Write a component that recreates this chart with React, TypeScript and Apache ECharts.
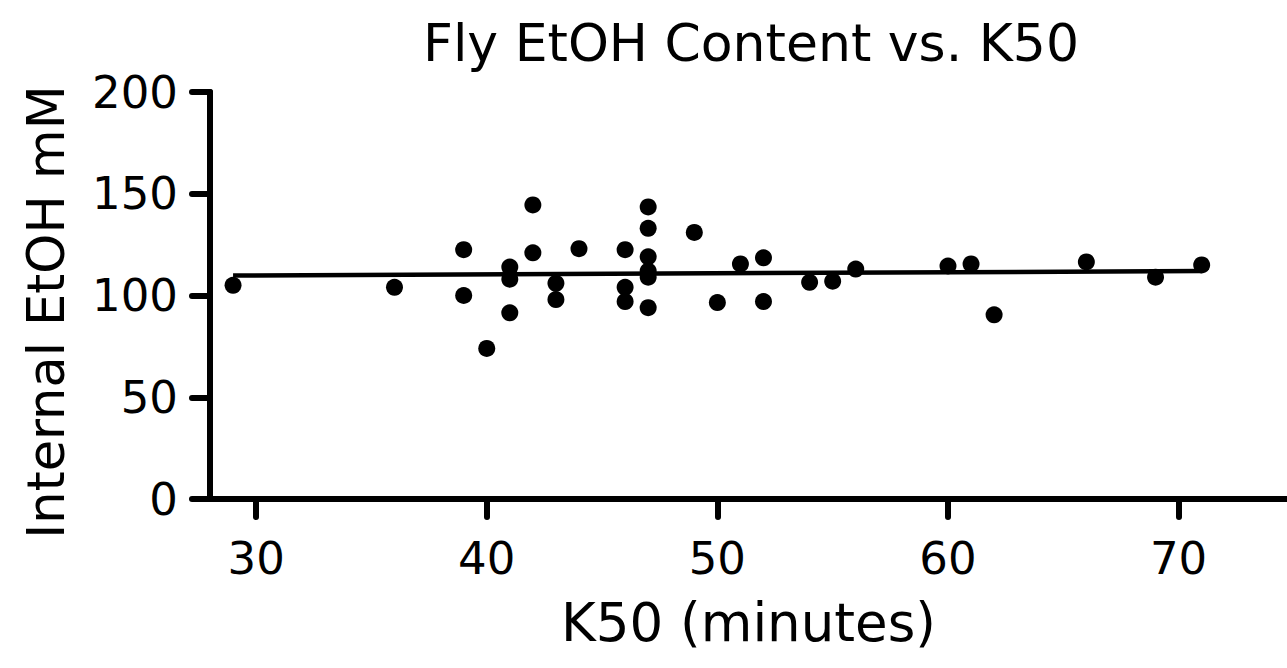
import React, { useEffect, useRef } from "react";
import * as echarts from "echarts";

const titleText = "Fly EtOH Content vs. K50";
const xAxisTitle = "K50 (minutes)";
const yAxisTitle = "Internal EtOH mM";

const k50Minutes = [29, 36, 39, 39, 40, 41, 41, 41, 42, 42, 43, 43, 44, 46, 46, 46, 47, 47, 47, 47, 47, 47, 49, 50, 51, 52, 52, 54, 55, 56, 60, 61, 62, 66, 69, 71];
const etohMM = [105, 104, 122.5, 100, 74, 114, 108, 91.5, 144.5, 121, 106, 98, 123, 122.5, 104, 97, 143.5, 133, 119, 112, 109, 94, 131, 96.5, 115.5, 118.5, 97, 106.5, 107, 113, 114.5, 115.5, 90.5, 116.5, 109, 115];

const fitX = [29, 71];
const fitY = [109.8, 112.0];

const xTicks = [30, 40, 50, 60, 70];

const FONT = "DejaVu Sans";

export default function App() {
  const ref = useRef<HTMLDivElement>(null);
  useEffect(() => {
    if (!ref.current) return;
    const chart = echarts.init(ref.current, null, { renderer: "svg" });
    const points = k50Minutes.map((x, i) => [x, etohMM[i]]);
    const fit = fitX.map((x, i) => [x, fitY[i]]);
    chart.setOption({
      animation: false,
      backgroundColor: "#ffffff",
      title: {
        text: titleText,
        left: 746,
        top: 12,
        textAlign: "center",
        textStyle: { fontFamily: FONT, fontSize: 52, fontWeight: "normal", color: "#000" },
      },
      graphic: [
        {
          type: "text",
          x: 46,
          y: 312,
          rotation: Math.PI / 2,
          style: {
            text: yAxisTitle,
            fontFamily: FONT,
            fontSize: 51,
            fill: "#000",
            align: "center",
            verticalAlign: "middle",
          },
        },
      ],
      grid: { left: 210, right: 0, top: 92, bottom: 169, containLabel: false },
      xAxis: {
        type: "value",
        min: 28,
        max: 74.7,
        name: xAxisTitle,
        nameLocation: "middle",
        nameGap: 97,
        nameTextStyle: { fontFamily: FONT, fontSize: 53, color: "#000" },
        splitLine: { show: false },
        axisLine: { show: true, lineStyle: { color: "#000", width: 6, cap: "round" } },
        axisTick: {
          show: true,
          customValues: xTicks,
          length: 18,
          lineStyle: { color: "#000", width: 6, cap: "round" },
        },
        axisLabel: {
          customValues: xTicks,
          margin: 37,
          fontFamily: FONT,
          fontSize: 45,
          color: "#000",
        },
      },
      yAxis: {
        type: "value",
        min: 0,
        max: 200,
        interval: 50,
        splitLine: { show: false },
        axisLine: { show: true, lineStyle: { color: "#000", width: 6, cap: "round" } },
        axisTick: { show: true, length: 18, lineStyle: { color: "#000", width: 6, cap: "round" } },
        axisLabel: { margin: 32, fontFamily: FONT, fontSize: 45, color: "#000" },
      },
      series: [
        {
          type: "line",
          data: fit,
          showSymbol: false,
          symbol: "none",
          lineStyle: { color: "#000", width: 4.5 },
          z: 2,
        },
        {
          type: "scatter",
          data: points,
          symbol: "circle",
          symbolSize: 17,
          itemStyle: { color: "#000", opacity: 1 },
          z: 3,
        },
      ],
    });
    return () => chart.dispose();
  }, []);
  return (
    <div
      ref={ref}
      style={{ position: "fixed", left: 0, top: 0, width: 1287, height: 668, background: "#fff" }}
    />
  );
}
